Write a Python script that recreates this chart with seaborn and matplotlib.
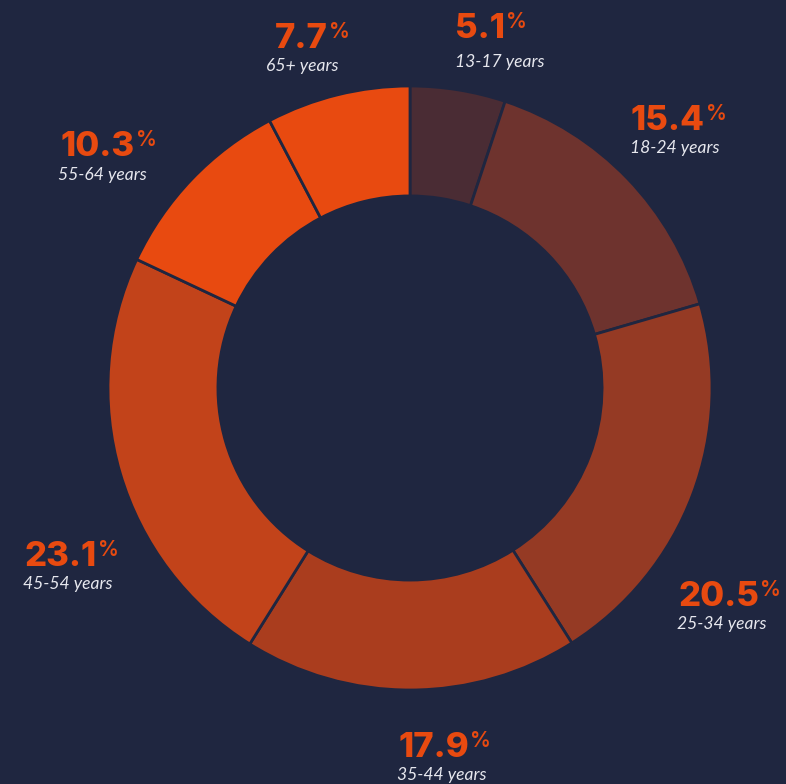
import matplotlib.pyplot as plt
import seaborn as sns

# Age distribution (share of audience, %)
age_groups = ["13-17 years", "18-24 years", "25-34 years", "35-44 years",
              "45-54 years", "55-64 years", "65+ years"]
shares = [5.1, 15.4, 20.5, 17.9, 23.1, 10.3, 7.7]
slice_colors = ["#4a2c34", "#6e332e", "#953a24", "#aa3d1e",
                "#c2431a", "#e84a10", "#e84a10"]

# label anchors in pixels from the top-left corner:
# (number x, number baseline, subtitle x, subtitle baseline)
label_pos = [
    (455, 38, 455, 67),
    (631, 130, 630, 153),
    (678, 606, 677, 629),
    (398, 757, 397, 780),
    (24, 566, 23, 589),
    (60, 156, 58, 180),
    (275, 48, 266, 71),
]

W, H = 786, 784
cx, cy, R = 410, 388, 302  # donut centre and outer radius (px)
bg = "#1f2640"
accent = "#e84a10"

sns.set_theme(style="white")
plt.rcParams['font.family'] = ['Inter', 'DejaVu Sans']

fig = plt.figure(figsize=(W / 100, H / 100), dpi=100, facecolor=bg)
ax = fig.add_axes([0, 0, 1, 1])
ax.set_facecolor(bg)

# Donut chart, clockwise from 12 o'clock
ax.pie(shares, colors=slice_colors, startangle=90, counterclock=False,
       radius=1, wedgeprops=dict(width=0.364, edgecolor=bg, linewidth=2))
ax.set_aspect('auto')
ax.set_xlim(-cx / R, (W - cx) / R)
ax.set_ylim(-(H - cy) / R, cy / R)
ax.axis('off')

# Labels: big percentage, small superscript %, italic age group underneath
for group, val, (nx, ny, sx, sy) in zip(age_groups, shares, label_pos):
    t = ax.text(nx / W, 1 - ny / H, f"{val:.1f}", transform=ax.transAxes,
                ha='left', va='baseline', fontsize=25, fontweight='heavy',
                color=accent)
    ax.annotate('%', xy=(1, 1), xycoords=t, xytext=(1, 1),
                textcoords='offset points', ha='left', va='top',
                fontsize=15, fontweight='semibold', color=accent)
    ax.text(sx / W, 1 - sy / H, group, transform=ax.transAxes,
            ha='left', va='baseline', fontsize=12.6, style='italic',
            color='#e6e7ee', family=['Lato', 'DejaVu Sans'])

fig.savefig('out.png', dpi=100, facecolor=bg)
